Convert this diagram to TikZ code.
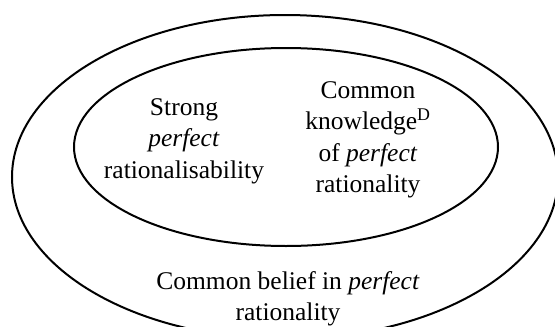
\documentclass[tikz,border=0pt]{standalone}
\usepackage{fontspec}
\setmainfont{Liberation Serif}
\begin{document}
\begin{tikzpicture}[x=1pt,y=-1pt,
  ring/.style={draw=black,line width=2pt},
  label/.style={align=center,inner sep=0pt,font=\fontsize{25.5}{31.5}\selectfont}]
\useasboundingbox (0,0) rectangle (555,327);
\clip (0,0) rectangle (555,327);
\fill[white] (0,0) rectangle (555,327);
\draw[ring] (285,177) ellipse [x radius=273, y radius=162];
\draw[ring] (286,147) ellipse [x radius=212, y radius=99];
\node[label] (spr) at (184,141) {Strong\\\textit{perfect}\\rationalisability};
\node[label] (ck) at (368,140) {Common\\knowledge\textsuperscript{D}\\of \textit{perfect}\\rationality};
\node[label] (cb) at (288,299) {Common belief in \textit{perfect}\\rationality};
\end{tikzpicture}
\end{document}
